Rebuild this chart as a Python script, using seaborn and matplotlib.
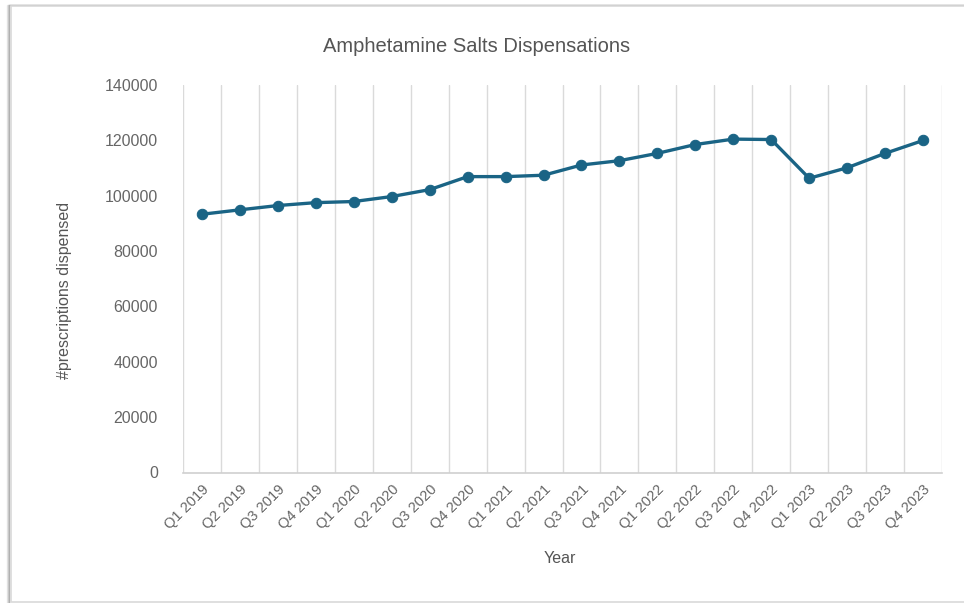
import matplotlib
matplotlib.use("Agg")
import matplotlib.pyplot as plt
import seaborn as sns
import pandas as pd
from matplotlib.patches import Rectangle

quarters = ["Q1 2019", "Q2 2019", "Q3 2019", "Q4 2019",
            "Q1 2020", "Q2 2020", "Q3 2020", "Q4 2020",
            "Q1 2021", "Q2 2021", "Q3 2021", "Q4 2021",
            "Q1 2022", "Q2 2022", "Q3 2022", "Q4 2022",
            "Q1 2023", "Q2 2023", "Q3 2023", "Q4 2023"]
dispensed = [93300, 94900, 96450, 97500, 97900, 99700, 102200, 106900,
             106900, 107400, 111100, 112650, 115300, 118500, 120450, 120300,
             106300, 110100, 115300, 119950]
y_ticks = [0, 20000, 40000, 60000, 80000, 100000, 120000, 140000]

sns.set_theme(style="white")
plt.rcParams["font.family"] = ["Liberation Sans", "DejaVu Sans"]

W, H = 964, 603
fig = plt.figure(figsize=(W / 100, H / 100), dpi=100)
fig.patch.set_facecolor("white")

# chart frame with shadow
for off, col in [(3, "#e6e6e6"), (2, "#cfcfcf"), (1, "#b0b0b0")]:
    fig.patches.append(Rectangle((10 / W - off / W, -0.05), 1.2, 1 - 5 / H + 0.05,
                                 transform=fig.transFigure, fill=False,
                                 edgecolor=col, linewidth=1.0, zorder=-3))
fig.patches.append(Rectangle((11 / W, 1.5 / H), 1.2, 1 - 7 / H,
                             transform=fig.transFigure, facecolor="white",
                             edgecolor="#d9d9d9", linewidth=1.2, zorder=-2))

left, right = 183 / W, 942 / W
bottom, top = 1 - 472.5 / H, 1 - 85 / H
ax = fig.add_axes([left, bottom, right - left, top - bottom])
ax.set_zorder(1)
ax.patch.set_alpha(0)

df = pd.DataFrame({"Quarter": quarters, "Dispensed": dispensed})
x_pos = list(range(len(quarters)))
sns.lineplot(x=x_pos, y=df["Dispensed"], ax=ax, color="#1a6485",
             linewidth=2.4, marker="o", markersize=7.5,
             markeredgecolor="#1a6485", zorder=3)

ax.set_xlim(-0.5, len(quarters) - 0.5)
ax.set_ylim(0, 140000)
ax.set_yticks(y_ticks)
ax.set_yticklabels([str(v) for v in y_ticks])
ax.set_xticks(x_pos)
ax.set_xticklabels(quarters, rotation=45, ha="right", rotation_mode="anchor")

for b in [i - 0.5 for i in range(len(quarters) + 1)]:
    ax.axvline(b, color="#dadada", linewidth=1.0, zorder=1)

for s in ["top", "right", "left"]:
    ax.spines[s].set_visible(False)
ax.spines["bottom"].set_color("#d0d0d0")
ax.spines["bottom"].set_linewidth(1.2)

ax.tick_params(axis="x", length=0, pad=7, labelsize=10.5, labelcolor="#666666")
ax.tick_params(axis="y", length=0, pad=18, labelsize=11.5, labelcolor="#666666")
ax.set_xlabel("Year", fontsize=11.5, color="#555555")
ax.set_ylabel("#prescriptions dispensed", fontsize=11.5, color="#555555")
ax.xaxis.set_label_coords((560 / W - left) / (right - left), -(551 - 472.5) / (472.5 - 85))
ax.yaxis.set_label_coords(-(183 - 72) / (942 - 183), 0.47)

fig.text(477 / W, 1 - 46 / H, "Amphetamine Salts Dispensations",
         ha="center", va="center", fontsize=14.5, color="#555555")

fig.savefig("out.png", dpi=100, facecolor="white")
